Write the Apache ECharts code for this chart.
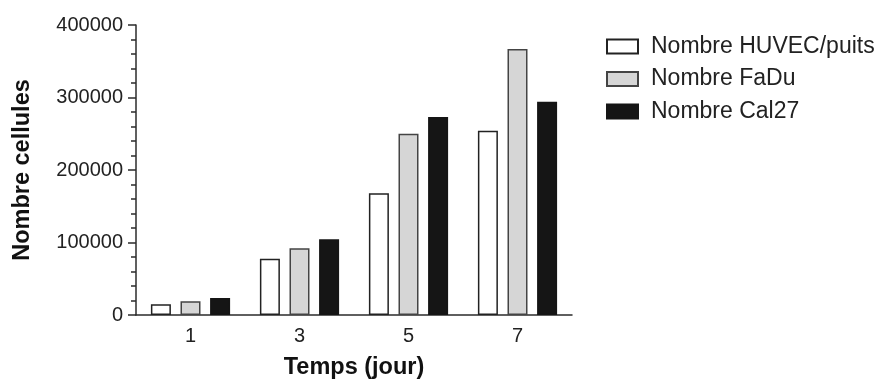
<!DOCTYPE html>
<html>
<head>
<meta charset="utf-8">
<script src="https://cdn.jsdelivr.net/npm/echarts@6/dist/echarts.min.js"></script>
<style>
html,body{margin:0;padding:0;background:#ffffff;}
#main{width:880px;height:381px;}
</style>
</head>
<body>
<div id="main"></div>
<script>
const categories = ["1", "3", "5", "7"];
const huvec = [15000, 77500, 168000, 254000];
const fadu = [19000, 92000, 250000, 367000];
const cal27 = [23500, 104500, 273000, 294000];
const seriesNames = ["Nombre HUVEC/puits", "Nombre FaDu", "Nombre Cal27"];
const yTicks = { min: 0, max: 400000, interval: 100000 };

const font = '"Liberation Sans", Arial, sans-serif';
const axisColor = '#2b2b2b';

const chart = echarts.init(document.getElementById('main'), null, { renderer: 'canvas' });

function barSeries(name, data, fill, border) {
  return {
    name: name,
    type: 'bar',
    data: data,
    barWidth: 20,
    barGap: '48%',
    itemStyle: { color: fill, borderColor: border, borderWidth: 1.5 },
    emphasis: { disabled: true },
    animation: false
  };
}

chart.setOption({
  backgroundColor: '#ffffff',
  animation: false,
  grid: { left: 136, right: 308, top: 25, bottom: 66, containLabel: false, outerBoundsMode: 'none' },
  legend: {
    orient: 'vertical',
    left: 601,
    top: 30,
    itemWidth: 31,
    itemHeight: 14,
    itemGap: 9.5,
    icon: 'rect',
    data: seriesNames,
    textStyle: { fontFamily: font, fontSize: 23, color: '#222', lineHeight: 23, padding: [0, 0, 0, 8] }
  },
  xAxis: {
    type: 'category',
    data: categories,
    name: 'Temps (jour)',
    nameLocation: 'middle',
    nameGap: 41,
    nameTextStyle: { fontFamily: font, fontSize: 23.5, fontWeight: 'bold', color: '#111' },
    axisLine: { lineStyle: { color: axisColor, width: 1.5 } },
    axisTick: { alignWithLabel: true, length: 7, lineStyle: { color: axisColor, width: 1.5 } },
    axisLabel: { fontFamily: font, fontSize: 20, color: '#222', margin: 11 }
  },
  yAxis: {
    type: 'value',
    min: yTicks.min,
    max: yTicks.max,
    interval: yTicks.interval,
    name: 'Nombre cellules',
    nameLocation: 'middle',
    nameGap: 101,
    nameTextStyle: { fontFamily: font, fontSize: 23.5, fontWeight: 'bold', color: '#111' },
    axisLine: { show: true, lineStyle: { color: axisColor, width: 1.5 } },
    axisTick: { show: true, length: 8, lineStyle: { color: axisColor, width: 1.5 } },
    minorTick: { show: true, splitNumber: 5, length: 5, lineStyle: { color: axisColor, width: 1.5 } },
    splitLine: { show: false },
    axisLabel: { fontFamily: font, fontSize: 20, color: '#222', margin: 13, formatter: v => String(v) }
  },
  series: [
    barSeries(seriesNames[0], huvec, '#ffffff', '#222222'),
    barSeries(seriesNames[1], fadu, '#d6d6d6', '#444444'),
    barSeries(seriesNames[2], cal27, '#151515', '#151515')
  ]
});
</script>
</body>
</html>
